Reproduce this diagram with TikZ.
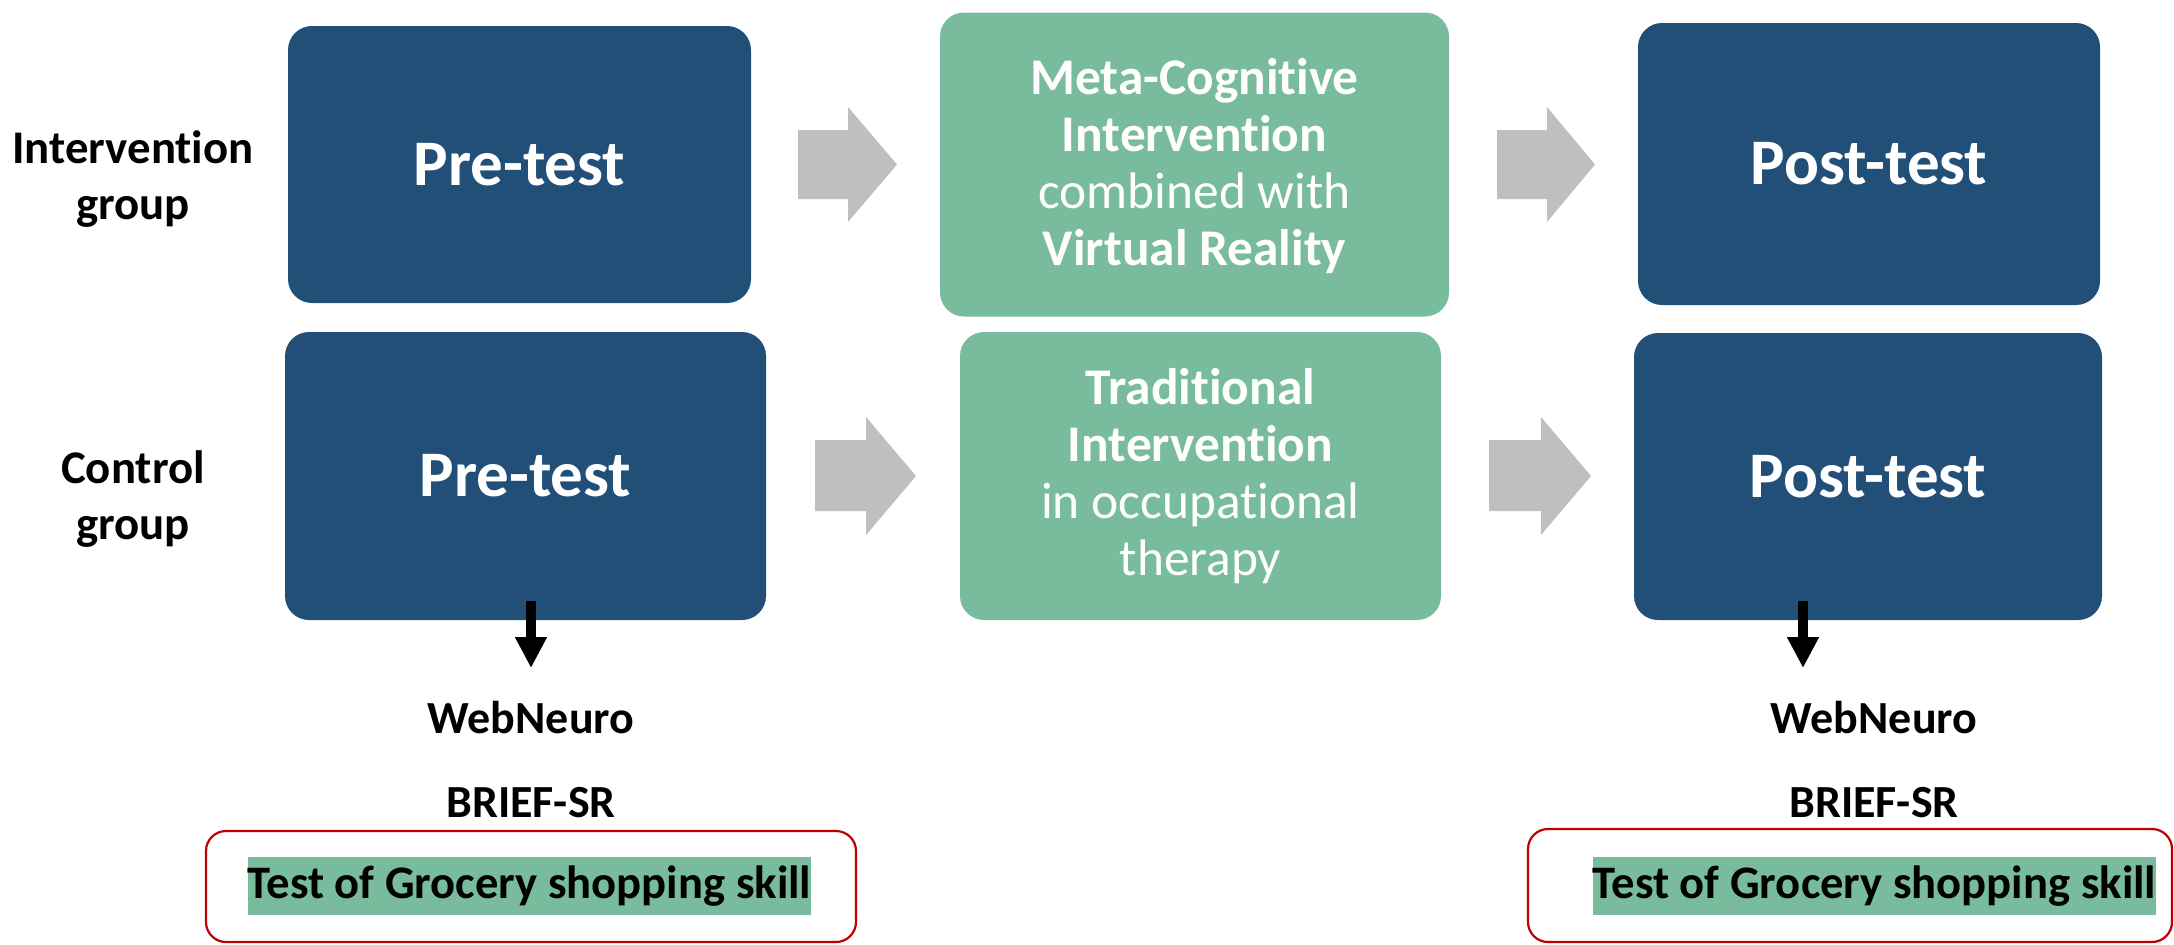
\documentclass[tikz,border=0pt]{standalone}
\usepackage{fontspec}
\setmainfont{Carlito}[Ligatures={NoCommon}]
\usetikzlibrary{arrows.meta,calc}
\definecolor{navy}{HTML}{214F78}
\definecolor{sage}{HTML}{78BB9D}
\definecolor{arrgray}{HTML}{BFBFBF}
\definecolor{redline}{HTML}{C00000}
\tikzset{
  bluebox/.style={fill=navy, rounded corners=12pt, text=white, font=\bfseries\fontsize{32.5}{38}\selectfont, inner sep=0pt},
  greenbox/.style={fill=sage, rounded corners=12pt, text=white, font=\fontsize{25.7}{28.5}\selectfont, align=center, inner sep=0pt},
  grouplabel/.style={font=\bfseries\fontsize{23.4}{28}\selectfont, align=center},
  measure/.style={font=\bfseries\fontsize{23}{27}\selectfont},
  redbox/.style={draw=redline, line width=1.1pt, rounded corners=10pt, inner sep=0pt},
  hilite/.style={fill=sage, font=\bfseries\fontsize{23.3}{27}\selectfont, inner xsep=0pt, inner ysep=0pt},
  downarrow/.style={line width=5pt, -{Triangle[length=15.5pt,width=15pt]}},
  blockarrow/.style={fill=arrgray}
}
\begin{document}
\begin{tikzpicture}[x=0.5pt,y=-0.5pt]
\useasboundingbox (0,0) rectangle (2174,944);
% group labels
\node[grouplabel] (lblA) at (133,179) {Intervention\\group};
\node[grouplabel] (lblB) at (133,499) {Control\\group};
% main boxes
\node[bluebox, minimum width=231.5pt, minimum height=138.5pt] (preA) at (519.5,164.5) {Pre-test};
\node[bluebox, minimum width=240.5pt, minimum height=144pt] (preB) at (525.5,476) {Pre-test};
\node[greenbox, minimum width=254.5pt, minimum height=152pt] (midA) at (1194.5,164.5) {};
\node[greenbox] (midAtxt) at (1194.5,166) {\textbf{Meta-Cognitive}\\\textbf{Intervention}\\combined with\\\textbf{Virtual Reality}};
\node[greenbox, minimum width=240.5pt, minimum height=144pt] (midB) at (1200.5,476) {\textbf{Traditional}\\\textbf{Intervention}\\in occupational\\therapy};
\node[bluebox, minimum width=231pt, minimum height=141pt] (postA) at (1869,164) {Post-test};
\node[bluebox, minimum width=234pt, minimum height=143.5pt] (postB) at (1868,476.5) {Post-test};
% block arrows
\fill[blockarrow] (798,130) -- (848,130) -- (848,107) -- (897,164.5) -- (848,222) -- (848,199) -- (798,199) -- cycle;
\fill[blockarrow] (815,440) -- (866,440) -- (866,417) -- (916,476) -- (866,535) -- (866,511) -- (815,511) -- cycle;
\fill[blockarrow] (1497,130) -- (1547,130) -- (1547,107) -- (1595,164.5) -- (1547,222) -- (1547,199) -- (1497,199) -- cycle;
\fill[blockarrow] (1489,440) -- (1541,440) -- (1541,417) -- (1591,476) -- (1541,535) -- (1541,511) -- (1489,511) -- cycle;
% measures left
\node[measure] (webA) at (531,718) {WebNeuro};
\node[measure] (briefA) at (531,803) {BRIEF-SR};
\node[redbox, minimum width=325pt, minimum height=55.5pt] (redA) at (531,886.5) {};
\node[hilite, minimum height=29pt] (tgsA) at (529.5,886) {Test of Grocery shopping skill};
% measures right
\node[measure] (webB) at (1874,718) {WebNeuro};
\node[measure] (briefB) at (1874,803) {BRIEF-SR};
\node[redbox, minimum width=322pt, minimum height=56.5pt] (redB) at (1850,885.5) {};
\node[hilite, minimum height=29pt] (tgsB) at (1874.5,886) {Test of Grocery shopping skill};
% down arrows
\coordinate (dA0) at (531,601);
\coordinate (dA1) at (531,668);
\coordinate (dB0) at (1803,601);
\coordinate (dB1) at (1803,668);
\draw[downarrow] (dA0) -- (dA1);
\draw[downarrow] (dB0) -- (dB1);
\end{tikzpicture}
\end{document}
